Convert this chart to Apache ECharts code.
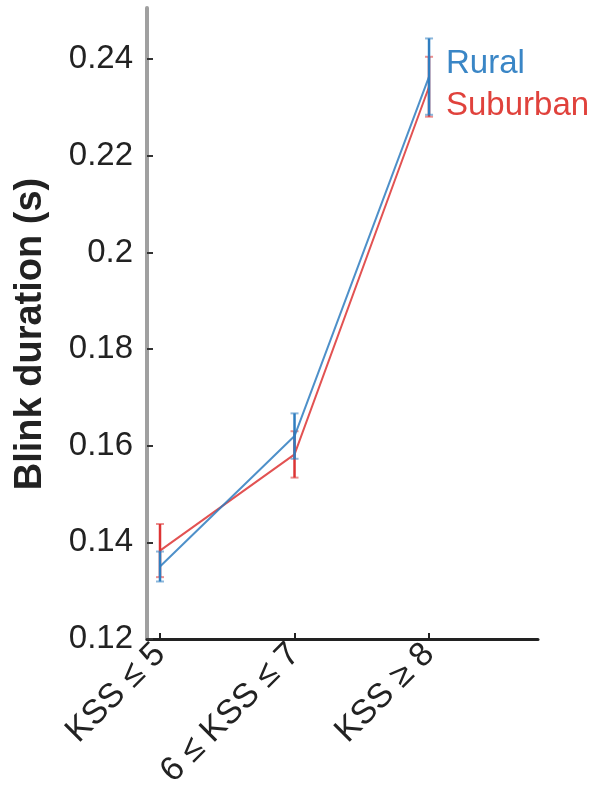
<!DOCTYPE html>
<html><head><meta charset="utf-8">
<script src="https://cdn.jsdelivr.net/npm/echarts@6/dist/echarts.min.js"></script>
<style>html,body{margin:0;padding:0;background:#fff}#c{width:594px;height:802px}</style>
</head><body><div id="c"></div>
<script>
const categories = ['KSS \u2264 5', '6 \u2264 KSS \u2264 7', 'KSS \u2265 8'];
const xPos = [1, 2, 3];
const ruralMean = [0.1350, 0.1620, 0.2364];
const ruralErr = [0.0031, 0.0047, 0.0079];
const suburbanMean = [0.1383, 0.1582, 0.2343];
const suburbanErr = [0.0055, 0.0048, 0.0062];
const yTicks = [0.12, 0.14, 0.16, 0.18, 0.2, 0.22, 0.24];
const yTitle = 'Blink duration (s)';

const BLUE = '#2f7dc0', RED = '#dd3434';
const FONT = '"Liberation Sans", Arial, sans-serif';

function errSeries(name, mean, err, color, z) {
  return {
    type: 'custom', name: name + ' err', z: z, silent: true,
    data: xPos.map((x, i) => [x, mean[i] - err[i], mean[i] + err[i]]),
    renderItem: function (params, api) {
      const lo = api.coord([api.value(0), api.value(1)]);
      const hi = api.coord([api.value(0), api.value(2)]);
      const w = 4;
      return {
        type: 'group', children: [
          { type: 'line', shape: { x1: lo[0], y1: lo[1], x2: hi[0], y2: hi[1] }, style: { stroke: color, lineWidth: 2.5 } },
          { type: 'line', shape: { x1: lo[0] - w, y1: lo[1], x2: lo[0] + w, y2: lo[1] }, style: { stroke: color, lineWidth: 2, opacity: 0.55 } },
          { type: 'line', shape: { x1: hi[0] - w, y1: hi[1], x2: hi[0] + w, y2: hi[1] }, style: { stroke: color, lineWidth: 2, opacity: 0.55 } }
        ]
      };
    }
  };
}

const chart = echarts.init(document.getElementById('c'), null, { renderer: 'canvas' });
chart.setOption({
  animation: false,
  backgroundColor: '#fff',
  grid: { left: 147, right: 56, top: 8, bottom: 163 },
  graphic: [{
    type: 'text', x: 31, y: 334, rotation: Math.PI / 2,
    style: { text: yTitle, fontFamily: FONT, fontSize: 38, fontWeight: 'bold', fill: '#222', align: 'center', verticalAlign: 'middle' }
  }],
  legend: {
    orient: 'vertical', left: 436, top: 42, itemGap: 9, icon: 'none', itemWidth: 0, itemHeight: 0,
    textStyle: { fontFamily: FONT, fontSize: 33 },
    data: [
      { name: 'Rural', textStyle: { color: '#3a86c6' } },
      { name: 'Suburban', textStyle: { color: '#e0423c' } }
    ]
  },
  xAxis: {
    type: 'value', min: 0.9033, max: 3.81,
    axisLine: { show: true, onZero: false, lineStyle: { color: '#222', width: 3 } },
    axisTick: { show: true, inside: true, length: 6, lineStyle: { color: '#222', width: 2 }, customValues: xPos },
    splitLine: { show: false },
    axisLabel: {
      customValues: xPos, rotate: 45, margin: 10,
      fontFamily: FONT, fontSize: 34, color: '#222',
      formatter: v => categories[Math.round(v) - 1] || ''
    }
  },
  yAxis: {
    type: 'value', min: 0.12, max: 0.2506,
    axisLine: { show: true, lineStyle: { color: '#a0a0a0', width: 4 } },
    axisTick: { show: true, inside: true, length: 6, lineStyle: { color: '#333', width: 2 }, customValues: yTicks },
    splitLine: { show: false },
    axisLabel: {
      customValues: yTicks, margin: 14, fontFamily: FONT, fontSize: 33, color: '#222',
      padding: [4, 0, 0, 0],
      formatter: v => String(parseFloat(v.toFixed(2)))
    }
  },
  series: [
    errSeries('Suburban', suburbanMean, suburbanErr, RED, 2),
    { type: 'line', name: 'Suburban', z: 3, data: xPos.map((x, i) => [x, suburbanMean[i]]), symbol: 'none',
      lineStyle: { color: RED, width: 2, opacity: 0.85 }, itemStyle: { color: RED } },
    errSeries('Rural', ruralMean, ruralErr, BLUE, 4),
    { type: 'line', name: 'Rural', z: 5, data: xPos.map((x, i) => [x, ruralMean[i]]), symbol: 'none',
      lineStyle: { color: BLUE, width: 2, opacity: 0.85 }, itemStyle: { color: BLUE } }
  ]
});
</script></body></html>
